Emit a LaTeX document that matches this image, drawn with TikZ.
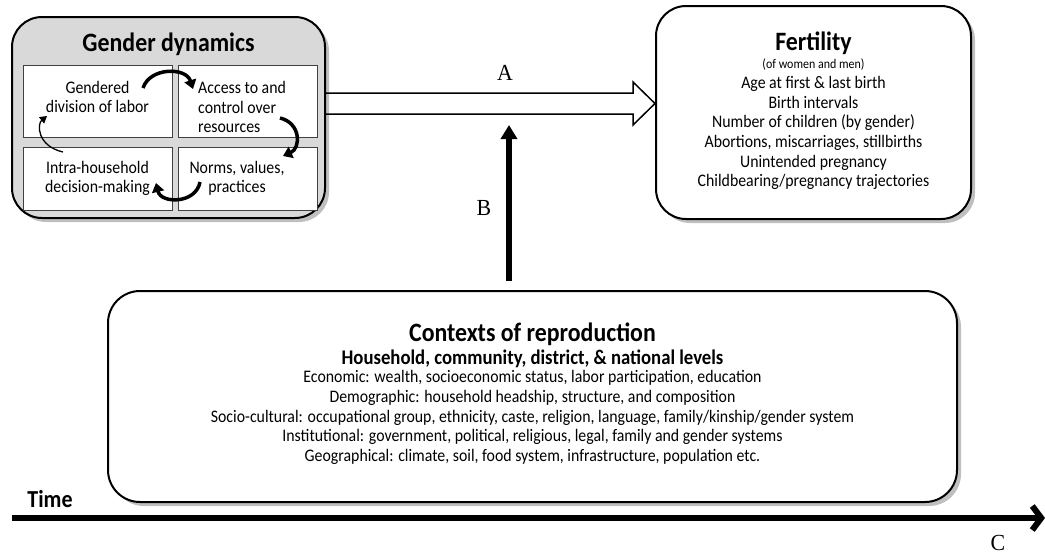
\documentclass[tikz,border=0pt]{standalone}
\usepackage{fontspec}
\setmainfont{Carlito}[FakeStretch=0.9]
\newfontfamily\serifA{Liberation Serif}[FakeStretch=0.95]
\usetikzlibrary{arrows.meta,shadows,calc}
\definecolor{boxgray}{HTML}{D9D9D9}
\definecolor{shadowgray}{HTML}{BFBFBF}
\definecolor{cellline}{HTML}{404040}
\tikzset{
  bigbox/.style={draw=black, line width=2pt, rounded corners=30pt,
    drop shadow={shadow xshift=4pt, shadow yshift=-4pt, fill=shadowgray, opacity=1}},
  cellbox/.style={draw=cellline, line width=1pt, fill=white},
  celltext/.style={font=\fontsize{17.6}{19.6}\selectfont, align=center, inner sep=0pt},
  titletext/.style={font=\bfseries\fontsize{26.5}{28}\selectfont, inner sep=0pt},
  lettertext/.style={font=\serifA\fontsize{23}{24}\selectfont, inner sep=0pt},
  cyclearrow/.style={line width=3.5pt, -{Triangle[length=9pt,width=12pt]}},
  thinarrow/.style={line width=1.3pt, -{Triangle[length=7pt,width=8pt]}},
  blockarrow/.style={draw=black, line width=1.5pt, line join=miter},
  vertarrow/.style={line width=6pt, -{Triangle[length=14pt,width=16pt]}},
  timearrow/.style={line width=6pt, -{Straight Barb[length=9pt,width=24pt]}}
}
\begin{document}
\begin{tikzpicture}[x=1pt,y=-1pt]
\useasboundingbox (0,0) rectangle (1045,555);
% Gender dynamics
\node[bigbox, fill=boxgray, minimum width=313pt, minimum height=201pt] (gd) at (168.5,117.5) {};
\node[titletext] (gdtitle) at (168.5,44) {Gender dynamics};
\node[cellbox, minimum width=149pt, minimum height=72pt] (c1) at (97.5,101) {};
\node[cellbox, minimum width=139pt, minimum height=72pt] (c2) at (247.5,101) {};
\node[cellbox, minimum width=149pt, minimum height=63pt] (c3) at (97.5,178.5) {};
\node[cellbox, minimum width=139pt, minimum height=63pt] (c4) at (247.5,178.5) {};
\node[celltext] (t1) at (97.5,97) {Gendered\\division of labor};
\node[celltext, align=left, anchor=west] (t2) at (198,107) {Access to and\\control over\\resources};
\node[celltext] (t3) at (97.5,178.5) {Intra-household\\decision-making};
\node[celltext] (t4) at (237,178.5) {Norms, values,\\practices};
% cycle arrows
\coordinate (a1s) at (143,88); \coordinate (a1e) at (193,89);
\coordinate (a2s) at (280,118); \coordinate (a2e) at (283,156);
\coordinate (a3s) at (200,182); \coordinate (a3e) at (156,183);
\coordinate (a4s) at (63,152); \coordinate (a4e) at (47,116);
\draw[cyclearrow] (a1s) .. controls (150,67) and (186,67) .. (a1e);
\draw[cyclearrow] (a2s) .. controls (301,123) and (301,148) .. (a2e);
\draw[cyclearrow] (a3s) .. controls (196,204) and (161,204) .. (a3e);
\draw[thinarrow] (a4s) .. controls (37,146) and (37,124) .. (a4e);
% Fertility
\node[bigbox, fill=white, minimum width=315pt, minimum height=213pt] (fert) at (813.5,112.5) {};
\node[titletext] (ftitle) at (813.5,43) {Fertility};
\node[font=\fontsize{13.3}{14}\selectfont, inner sep=0pt] (fsub) at (813.5,65) {(of women and men)};
\node[celltext] (fbody) at (813.5,133) {Age at first \& last birth\\Birth intervals\\Number of children (by gender)\\Abortions, miscarriages, stillbirths\\Unintended pregnancy\\Childbearing/pregnancy trajectories};
% Contexts
\node[bigbox, fill=white, rounded corners=32pt, minimum width=849pt, minimum height=211pt] (ctx) at (532.5,396.5) {};
\node[titletext] (ctitle) at (532.5,334) {Contexts of reproduction};
\node[font=\bfseries\fontsize{20.8}{22}\selectfont, inner sep=0pt] (csub) at (532.5,358.5) {Household, community, district, \& national levels};
\node[celltext] (cbody) at (532.5,417.5) {Economic: wealth, socioeconomic status, labor participation, education\\Demographic: household headship, structure, and composition\\Socio-cultural: occupational group, ethnicity, caste, religion, language, family/kinship/gender system\\Institutional: government, political, religious, legal, family and gender systems\\Geographical: climate, soil, food system, infrastructure, population etc.};
% Arrow A
\coordinate (Aaxis) at (0,103.5);
\draw[blockarrow] ($(gd.east |- Aaxis)+(0,-10.5)$) -- ($(fert.west |- Aaxis)+(-22,-10.5)$) -- ++(0,-11) -- (fert.west |- Aaxis) -- ($(fert.west |- Aaxis)+(-22,21.5)$) -- ++(0,-11) -- ($(gd.east |- Aaxis)+(0,10.5)$);
\node[lettertext] (labA) at (505,73) {A};
% Arrow B
\coordinate (Bx) at (509,0);
\coordinate (Btop) at (509,125);
\draw[vertarrow, shorten <=9pt] (ctx.north -| Bx) -- (Btop);
\node[lettertext] (labB) at (484,208) {B};
% Time axis
\coordinate (tstart) at (12,518);
\coordinate (tend) at (1045,518);
\draw[timearrow] (tstart) -- (tend);
\node[font=\bfseries\fontsize{24.4}{26}\selectfont, inner sep=0pt] (time) at (50,499) {Time};
\node[lettertext] (labC) at (998,543) {C};
\end{tikzpicture}
\end{document}
